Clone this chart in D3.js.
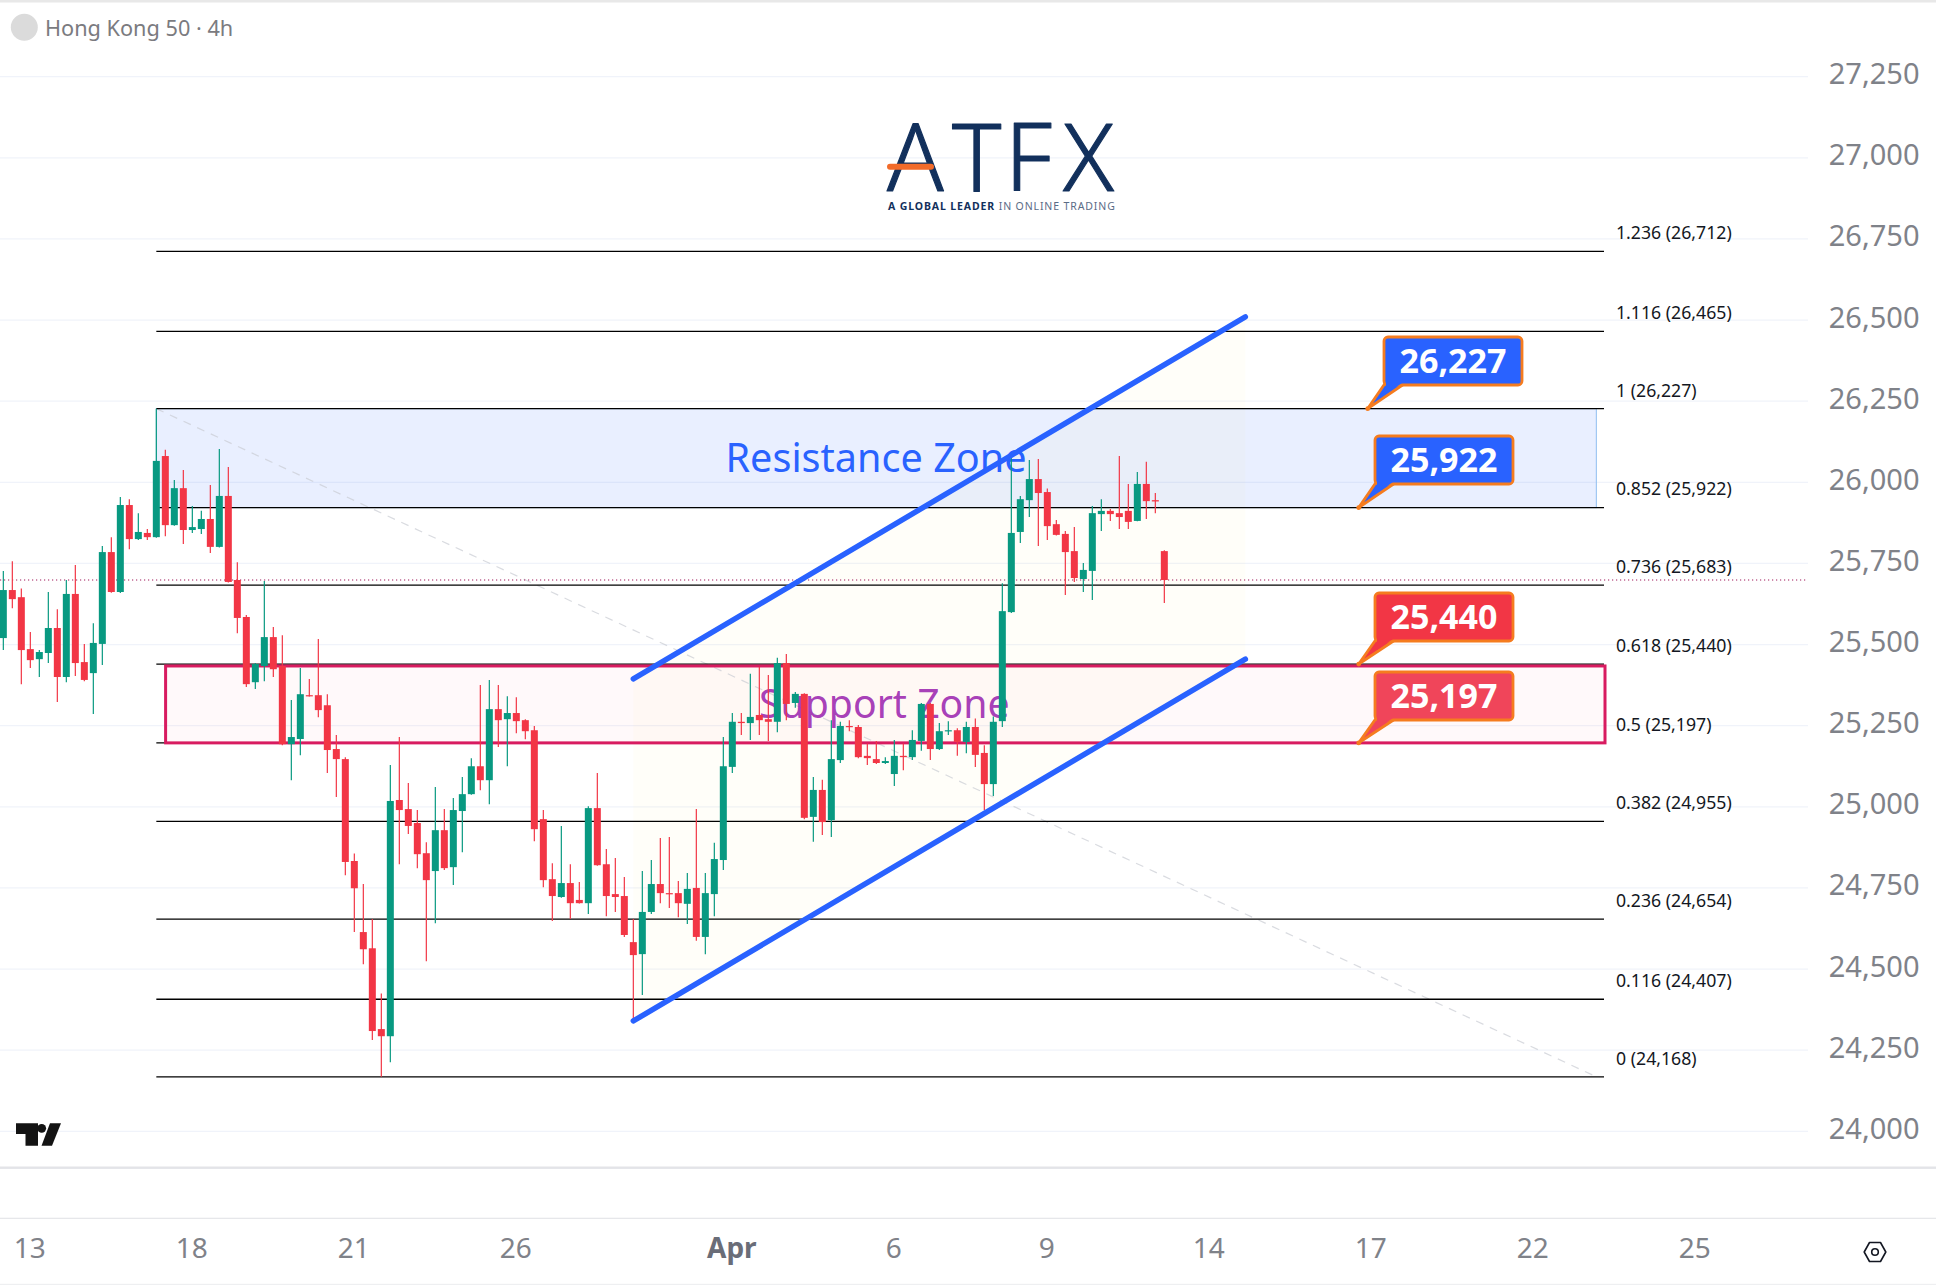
<!DOCTYPE html>
<html><head><meta charset="utf-8">
<script src="https://d3js.org/d3.v7.min.js"></script>
<style>html,body{margin:0;padding:0;background:#fff}svg{display:block}text{font-family:"Noto Sans",sans-serif}</style>
</head><body><svg id="c" width="1936" height="1286"></svg>
<script>
const opens=[25520,25668,25646,25486,25455,25474,25551,25400,25656,25446,25412,25502,25785,25662,25930,25825,25844,25831,26081,25868,25982,25853,25856,25887,25801,25958,25699,25585,25384,25434,25523,25434,25193,25209,25344,25344,25313,25178,25147,24833,24614,24564,24315,24293,25021,24993,24950,24857,24802,24928,24814,24987,25039,25125,25082,25301,25270,25289,25267,25236,24962,24777,24722,24765,24713,24703,24996,24823,24731,24725,24583,24546,24676,24762,24734,24734,24701,24750,24599,24731,24836,25123,25262,25258,25283,25270,25262,25443,25320,25348,24969,25052,24959,25144,25249,25246,25157,25147,25135,25101,25157,25153,25203,25317,25178,25233,25236,25200,25246,25166,25070,25264,25600,25847,25945,26010,25970,25871,25841,25788,25702,25727,25902,25912,25905,25912,25881,25995,25945,25788];
const highs=[25727,25757,25673,25539,25483,25662,25609,25699,25745,25502,25566,25804,25831,25955,25948,25905,25856,26227,26100,26007,26038,25927,25912,25992,26103,26047,25754,25591,25443,25696,25554,25529,25329,25428,25394,25517,25347,25221,25153,24856,24762,24654,24425,25129,25215,25073,24990,24891,25061,24993,25027,25092,25150,25375,25391,25375,25341,25338,25270,25249,24990,24826,24941,24823,24768,25002,25104,24870,24842,24784,24654,24802,24836,24904,24907,24771,24796,24993,24796,24889,25215,25289,25289,25410,25431,25406,25459,25471,25354,25350,25092,25083,25267,25262,25267,25252,25195,25203,25153,25206,25195,25236,25320,25320,25258,25264,25242,25262,25272,25190,25278,25689,26079,25958,26069,26072,25981,25884,25850,25862,25751,25927,25948,25918,26081,25995,26032,26063,25967,25791];
const lows=[25483,25612,25378,25428,25400,25443,25323,25384,25403,25387,25286,25437,25660,25659,25794,25822,25822,25829,25834,25866,25810,25844,25841,25782,25799,25691,25535,25369,25363,25387,25400,25190,25082,25159,25340,25276,25104,25030,24789,24614,24515,24281,24168,24213,24823,24916,24811,24524,24641,24805,24759,24860,25037,25051,25008,25184,25125,25227,25208,24894,24752,24648,24720,24654,24702,24670,24818,24663,24676,24599,24343,24420,24670,24703,24688,24660,24639,24587,24546,24663,24805,25104,25221,25206,25221,25203,25230,25267,25305,24962,24892,24913,24907,25135,25233,25150,25129,25132,25132,25064,25113,25144,25173,25144,25175,25221,25157,25165,25123,24990,25033,25246,25597,25813,25893,25804,25822,25836,25653,25693,25662,25637,25850,25881,25856,25856,25880,25887,25905,25628];
const closes=[25668,25640,25483,25452,25477,25551,25400,25656,25443,25391,25505,25785,25662,25930,25825,25847,25831,26066,25868,25982,25853,25862,25887,25801,25958,25693,25582,25378,25440,25523,25424,25193,25215,25347,25341,25298,25175,25147,24830,24749,24561,24309,24293,25018,24990,24941,24854,24774,24928,24811,24990,25039,25125,25082,25301,25267,25289,25264,25233,24931,24774,24725,24765,24703,24703,24996,24820,24725,24722,24605,24543,24676,24762,24734,24731,24703,24747,24599,24734,24839,25125,25262,25258,25277,25267,25262,25443,25317,25348,24966,25052,24953,25147,25249,25246,25153,25150,25135,25141,25157,25153,25206,25317,25178,25233,25236,25200,25246,25160,25070,25262,25603,25844,25948,26010,25967,25865,25838,25785,25705,25730,25905,25912,25902,25893,25878,25995,25942,25941,25699];

const priceTicks=[27250,27000,26750,26500,26250,26000,25750,25500,25250,25000,24750,24500,24250,24000];
const timeLabels=["13","18","21","26","Apr","6","9","14","17","22","25"];
const timeIndex=[3,21,39,57,81,99,116,134,152,170,188];

const fibRatios=["1.236","1.116","1","0.852","0.736","0.618","0.5","0.382","0.236","0.116","0"];
const fibValues=[26712,26465,26227,25922,25683,25440,25197,24955,24654,24407,24168];

const resistanceZone=[26227,25922];
const supportZone=[25434,25197];
const channelUpper=[[70,25394],[138,26510]];
const channelLower=[[70,24340],[138,25455]];
const fibTrend=[[17,26227],[177,24168]];
const lastPrice=25699;

const callIndex=[151.6,150.6,150.6,150.6];
const callValues=[26227,25922,25440,25197];
const callColors=["#2962FF","#2962FF","#F23645","#F0455A"];
const callBoxLeft=[1384,1375,1375,1375];
const callBoxTop=[337,436,593,672];

const GREEN="#089981",RED="#F23645",GRID="#F0F3FA",AX="#7f8289";
const svg=d3.select("#c");
const n=opens.length;
const x=d3.scaleLinear().domain([0,129]).range([3.33,1164.33]);
const y=d3.scaleLinear().domain([24000,27250]).range([1131.3,76.7]);
const fmt=d3.format(",");

svg.append("rect").attr("width",1936).attr("height",2.5).attr("fill","#e8e8e8");

// grid
svg.append("g").selectAll("line").data(priceTicks).join("line")
 .attr("x1",0).attr("x2",1808).attr("y1",d=>y(d)).attr("y2",d=>y(d)).attr("stroke",GRID).attr("stroke-width",1.2);

// channel background
const area=d3.line().x(d=>x(d[0])).y(d=>y(d[1]));
svg.append("path").attr("d",area([...channelUpper,...channelLower.slice().reverse()])+"Z").attr("fill","#FFEB3B").attr("fill-opacity",0.03);

// zones
svg.append("rect").attr("x",x(17)).attr("width",x(177)-x(17)).attr("y",y(resistanceZone[0])).attr("height",y(resistanceZone[1])-y(resistanceZone[0]))
 .attr("fill","#2962FF").attr("fill-opacity",0.1).attr("stroke","#90BFF0").attr("stroke-width",1);
svg.append("rect").attr("x",165.6).attr("width",1605-165.6).attr("y",y(supportZone[0])).attr("height",y(supportZone[1])-y(supportZone[0]))
 .attr("fill","#F23645").attr("fill-opacity",0.028);

// fib trend
svg.append("path").attr("d",area(fibTrend)).attr("fill","none").attr("stroke","#c9ccd3").attr("stroke-opacity",0.7).attr("stroke-width",1.2).attr("stroke-dasharray","8 7");

// fib lines + labels
svg.append("g").selectAll("line").data(fibValues).join("line")
 .attr("x1",x(17)).attr("x2",1604).attr("y1",d=>y(d)).attr("y2",d=>y(d)).attr("stroke","#000").attr("stroke-width",1.3);
svg.append("g").selectAll("text").data(fibValues).join("text")
 .attr("x",1616).attr("y",d=>y(d)-18.5).attr("dy","0.36em").attr("font-size",17.7).attr("fill","#131722")
 .text((d,i)=>`${fibRatios[i]} (${fmt(d)})`);

// zone border support
svg.append("rect").attr("x",165.6).attr("width",1605-165.6).attr("y",y(supportZone[0])).attr("height",y(supportZone[1])-y(supportZone[0]))
 .attr("fill","none").attr("stroke","#D81B60").attr("stroke-width",3);

// zone titles
svg.append("text").attr("x",725.5).attr("y",457.5).attr("dy","0.36em").attr("font-size",39.6).attr("fill","#2962FF").text("Resistance Zone");
svg.append("text").attr("x",759).attr("y",703.5).attr("dy","0.36em").attr("font-size",39.2).attr("fill","#9C27B0").attr("fill-opacity",0.9).text("Support Zone");

// last price
svg.append("line").attr("x1",0).attr("x2",1808).attr("y1",y(lastPrice)).attr("y2",y(lastPrice)).attr("stroke","#A0185B").attr("stroke-width",1.1).attr("stroke-dasharray","1.2 2.8");

// candles
const idx=d3.range(n);
const col=i=>closes[i]>=opens[i]?GREEN:RED;
svg.append("g").selectAll("line").data(idx).join("line")
 .attr("x1",i=>x(i)).attr("x2",i=>x(i)).attr("y1",i=>y(highs[i])).attr("y2",i=>y(lows[i])).attr("stroke",col).attr("stroke-width",1.2);
svg.append("g").selectAll("rect").data(idx).join("rect")
 .attr("x",i=>x(i)-3.5).attr("width",7)
 .attr("y",i=>y(Math.max(opens[i],closes[i])))
 .attr("height",i=>Math.max(1.2,Math.abs(y(opens[i])-y(closes[i]))))
 .attr("fill",col);

// channel
[channelUpper,channelLower].forEach(c=>svg.append("path").attr("d",area(c)).attr("fill","none").attr("stroke","#2962FF").attr("stroke-width",5.5).attr("stroke-linecap","round"));

// callouts
const bw=138,bh=48;
callValues.forEach((v,i)=>{
  const l=callBoxLeft[i],t=callBoxTop[i],tx=x(callIndex[i]),ty=y(v);
  const g=svg.append("g");
  g.append("path").attr("d",`M${l+2} ${t+bh-3} L${tx} ${ty} L${l+20} ${t+bh-1} Z`).attr("fill",callColors[i]).attr("stroke","#F57C1F").attr("stroke-width",2.8).attr("stroke-linejoin","round");
  g.append("rect").attr("x",l).attr("y",t).attr("width",bw).attr("height",bh).attr("rx",4).attr("fill",callColors[i]).attr("stroke","#F57C1F").attr("stroke-width",2.8);
  g.append("path").attr("d",`M${l+2} ${t+bh-2} L${l+18} ${t+bh-2} L${l+2} ${t+bh+9} Z`).attr("fill",callColors[i]);
  g.append("circle").attr("cx",tx).attr("cy",ty).attr("r",2.4).attr("fill","#F57C1F");
  g.append("text").attr("x",l+bw/2).attr("y",t+bh/2-0.5).attr("dy","0.36em").attr("text-anchor","middle").attr("font-size",34).attr("font-weight",700).attr("fill","#fff").text(fmt(v));
});

// axes
const yAxis=d3.axisRight(y).tickValues(priceTicks).tickSize(0).tickFormat(fmt);
const ya=svg.append("g").call(yAxis);
ya.select(".domain").remove();
ya.selectAll("text").attr("x",1919.5).attr("dy","0.24em").attr("text-anchor","end").attr("font-size",29).attr("font-family",'"Noto Sans",sans-serif').attr("fill",AX);

svg.append("rect").attr("x",0).attr("y",1166.5).attr("width",1936).attr("height",2.4).attr("fill","#E3E4E8");
svg.append("rect").attr("x",0).attr("y",1217.7).attr("width",1936).attr("height",1.3).attr("fill","#E6E7EA");
svg.append("rect").attr("x",0).attr("y",1283.8).attr("width",1936).attr("height",1.2).attr("fill","#EEEFF1");

const xAxis=d3.axisBottom(x).tickValues(timeIndex).tickSize(0).tickFormat((d,i)=>timeLabels[i]);
const xa=svg.append("g").attr("transform","translate(-1,1248)").call(xAxis);
xa.select(".domain").remove();
xa.selectAll("text").attr("y",0).attr("dy","0.36em").attr("font-size",28).attr("font-family",'"Noto Sans",sans-serif')
 .attr("fill",(d,i)=>timeLabels[i]==="Apr"?"#6a6d78":AX).attr("font-weight",(d,i)=>timeLabels[i]==="Apr"?700:400);

// header
svg.append("circle").attr("cx",24.3).attr("cy",27.3).attr("r",13.5).attr("fill","#DBDBDB");
svg.append("text").attr("x",45).attr("y",35.5).attr("font-size",21.7).attr("fill","#7b7b7f").text("Hong Kong 50 · 4h");

// TV logo
const tv=svg.append("g").attr("fill","#131313");
tv.append("path").attr("d","M16 1123.3H38V1145.7H25.5V1134H16Z");
tv.append("circle").attr("cx",41.7).attr("cy",1128.3).attr("r",4.4);
tv.append("path").attr("d","M50 1123.3H61L52 1145.7H41.5Z");

// ATFX logo
svg.append("text").attr("x","887 952 1005 1063").attr("y",191).attr("font-size",93).attr("font-family","Lato, sans-serif").attr("font-weight",300).attr("fill","#12305C").attr("stroke","#12305C").attr("stroke-width",1.2).attr("stroke-linejoin","round").text("ATFX");
svg.append("line").attr("x1",890).attr("x2",931).attr("y1",166.7).attr("y2",166.7).attr("stroke","#F26B2A").attr("stroke-width",6).attr("stroke-linecap","round");
const tag=svg.append("text").attr("x",888).attr("y",209.5).attr("font-size",10.5).attr("letter-spacing",0.88).attr("fill","#12305C");
tag.append("tspan").attr("font-weight",700).text("A GLOBAL LEADER ");
tag.append("tspan").attr("fill","#5b6c86").text("IN ONLINE TRADING");

// settings
const gear=svg.append("g").attr("transform","translate(1875,1252)").attr("fill","none").attr("stroke","#131722").attr("stroke-width",1.6);
gear.append("path").attr("d","M-5.5-9.5H5.5L10.8 0L5.5 9.5H-5.5L-10.8 0Z").attr("stroke-linejoin","round");
gear.append("circle").attr("r",3.3);
</script></body></html>
